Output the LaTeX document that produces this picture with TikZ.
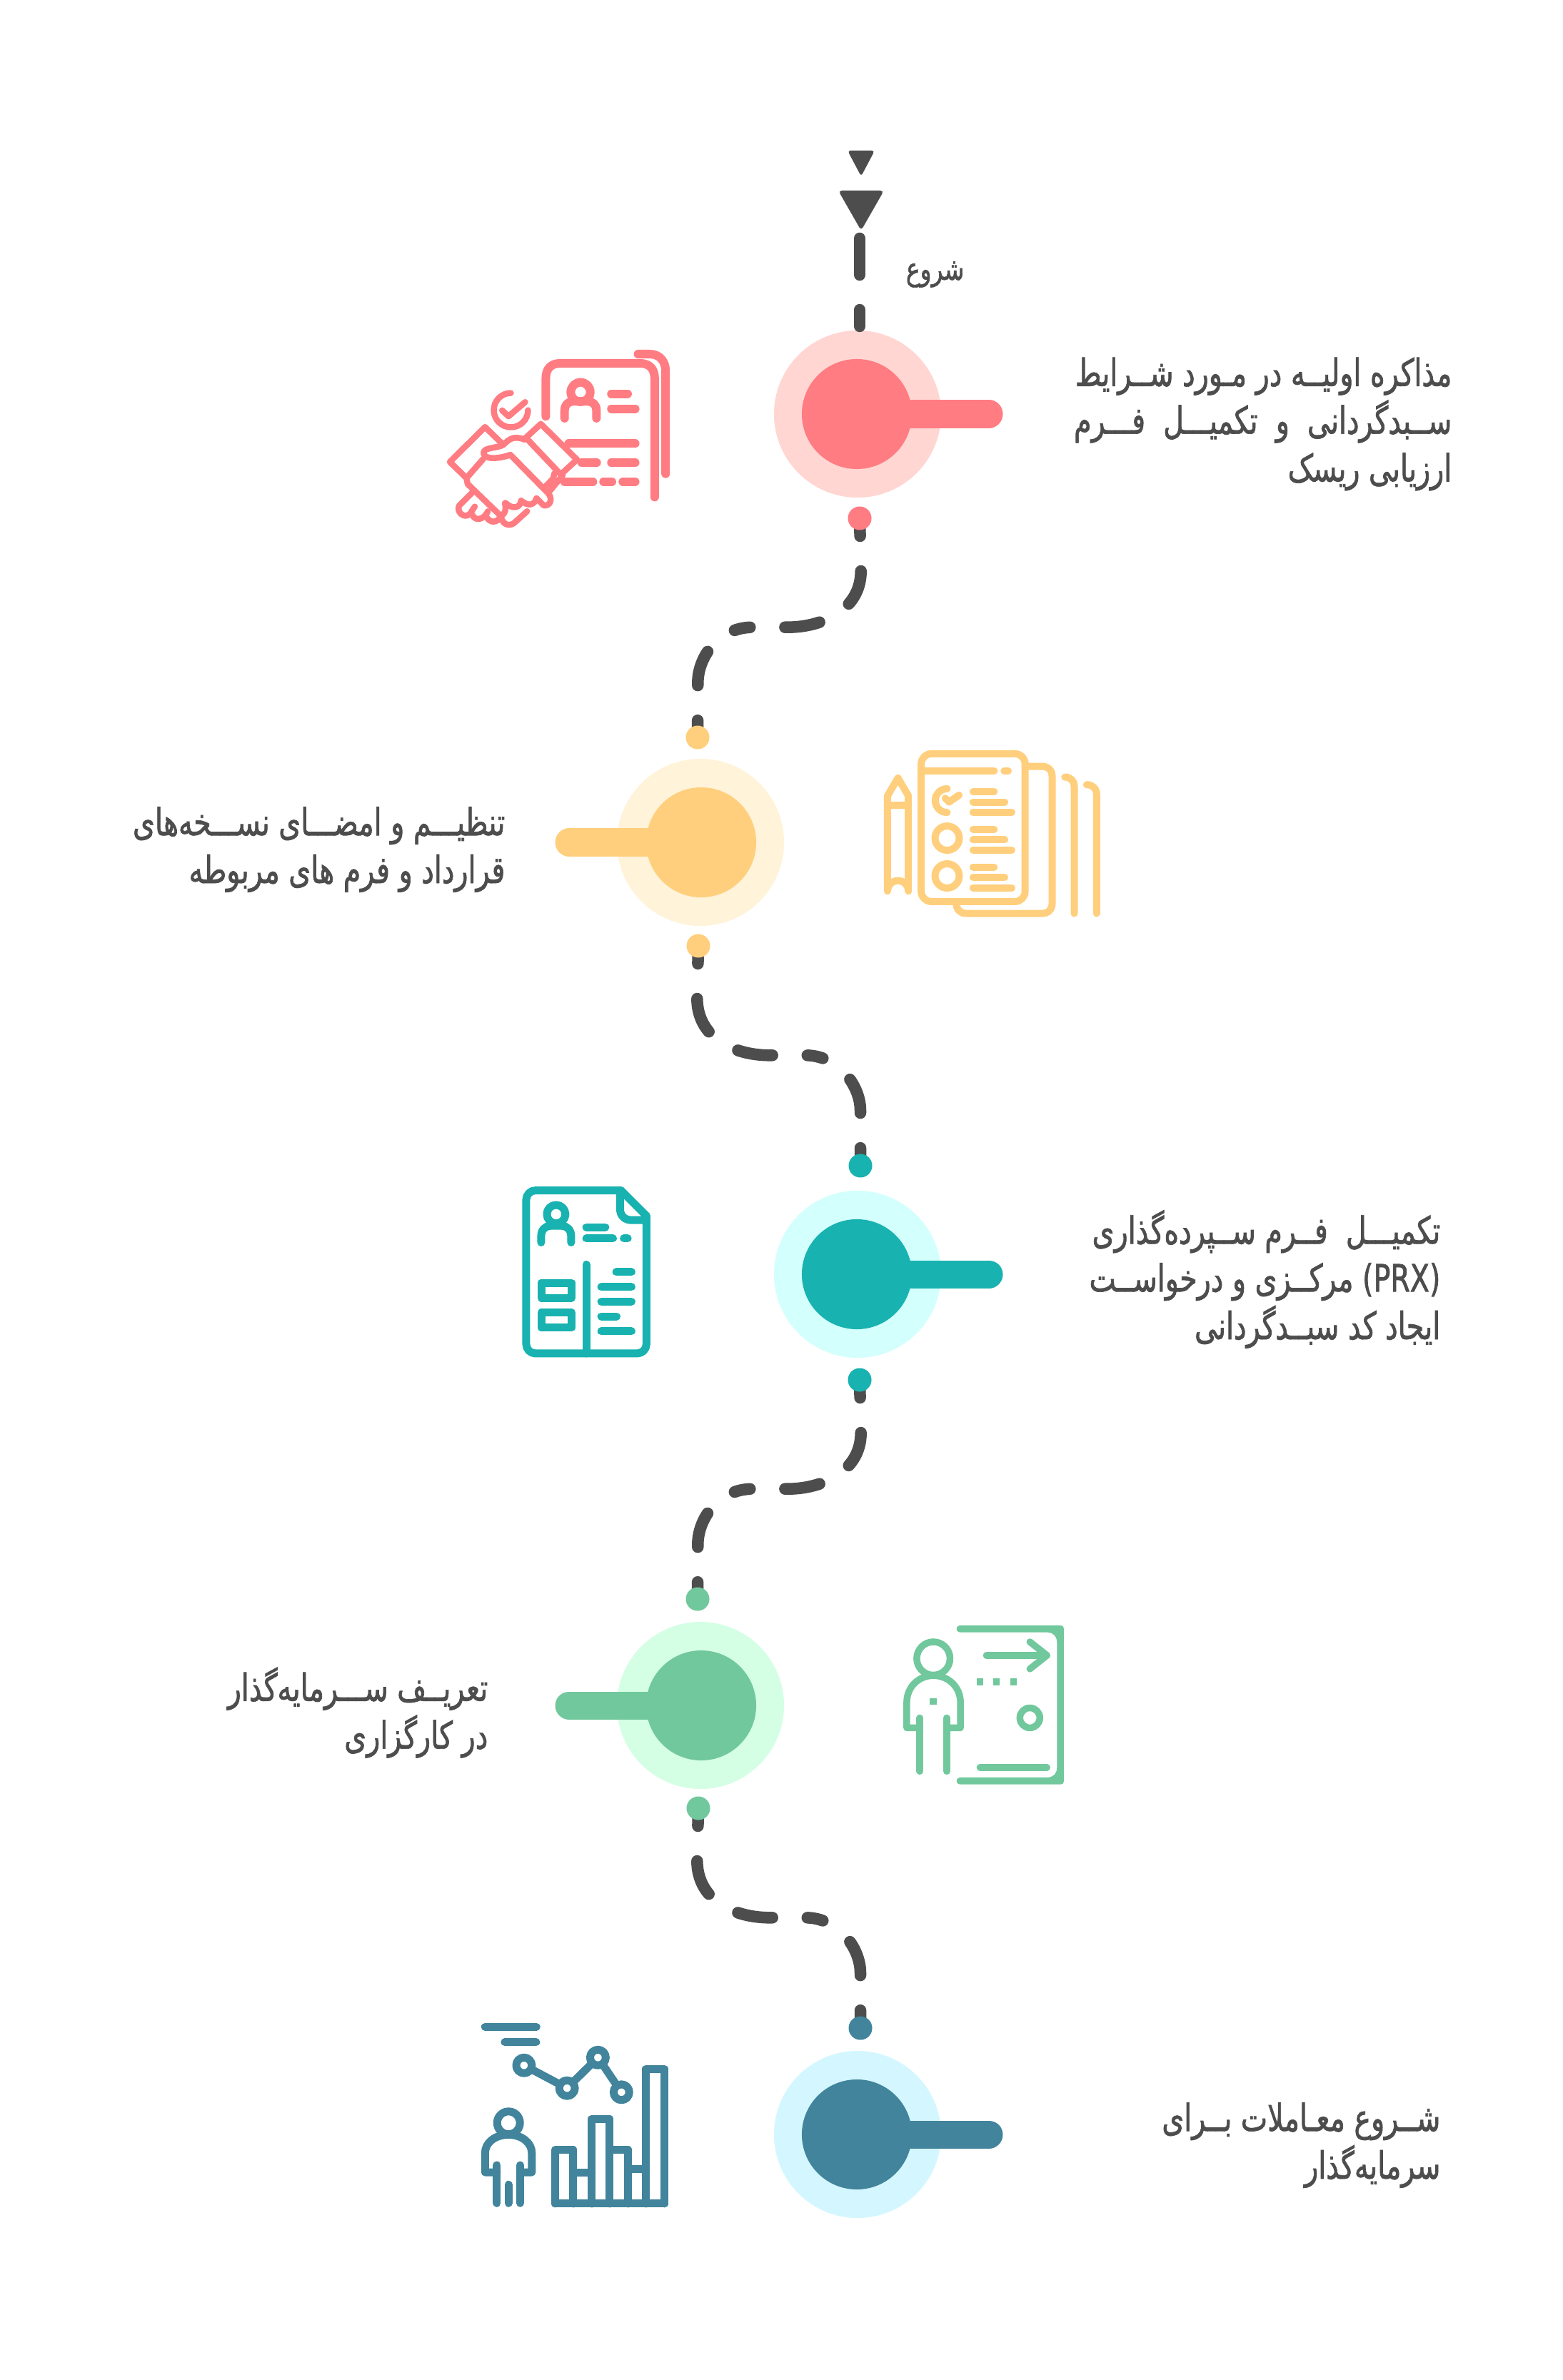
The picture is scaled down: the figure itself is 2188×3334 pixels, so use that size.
\documentclass[tikz,border=0pt]{standalone}
\usepackage{fontspec}
\usetikzlibrary{backgrounds}
\TeXXeTstate=1
\newfontfamily\farsi[Script=Arabic, FakeStretch=.75, FakeBold=1.3]{DejaVu Sans}

\definecolor{ink}{HTML}{4D4D4D}
\definecolor{pinkc}{HTML}{FF7C82}
\definecolor{pinkr}{HTML}{FFD6D2}
\definecolor{yellowc}{HTML}{FFCF7D}
\definecolor{yellowr}{HTML}{FFF3D9}
\definecolor{tealc}{HTML}{18B2B0}
\definecolor{tealr}{HTML}{D3FFFD}
\definecolor{greenc}{HTML}{72C89D}
\definecolor{greenr}{HTML}{D5FFE5}
\definecolor{bluec}{HTML}{41849C}
\definecolor{bluer}{HTML}{D4F7FF}

\tikzset{
    ring/.style={circle, fill=#1, inner sep=0pt, minimum size=2.34cm},
    disc/.style={circle, fill=#1, inner sep=0pt, minimum size=1.54cm},
    dot/.style={circle, fill=#1, inner sep=0pt, minimum size=.33cm},
    bar/.style={draw=#1, line width=.39cm, line cap=round},
    flow/.style={draw=ink, line width=.165cm, line cap=round},
    swing/.style={flow, dash pattern=on .25cm off .49cm on .5cm off .49cm on .49cm off .49cm on .22cm off .49cm on .5cm off .49cm on .6cm},
    caption/.style={text=ink, inner sep=0pt, align=right, font=\farsi\fontsize{15}{19}\selectfont},
    icon/.style={x=.003333cm, y=-.003333cm, line cap=round, line join=round},
}

\begin{document}
\begin{tikzpicture}[x=.01cm, y=-.01cm]
    \useasboundingbox (0,0) rectangle (2188,3334);

    % stops
    \node [ring=pinkr] (ring1) at (1201,580) {};
    \node [disc=pinkc] (disc1) at (1200,580) {};
    \node [dot=pinkc] (dot1b) at (1204,726) {};
    \node [dot=yellowc] (dot2t) at (977,1033) {};
    \node [ring=yellowr] (ring2) at (981,1180) {};
    \node [disc=yellowc] (disc2) at (982,1180) {};
    \node [dot=yellowc] (dot2b) at (978,1325) {};
    \node [dot=tealc] (dot3t) at (1205,1633) {};
    \node [ring=tealr] (ring3) at (1201,1785) {};
    \node [disc=tealc] (disc3) at (1200,1785) {};
    \node [dot=tealc] (dot3b) at (1204,1933) {};
    \node [dot=greenc] (dot4t) at (977,2240) {};
    \node [ring=greenr] (ring4) at (981,2389) {};
    \node [disc=greenc] (disc4) at (982,2389) {};
    \node [dot=greenc] (dot4b) at (978,2533) {};
    \node [dot=bluec] (dot5t) at (1205,2841) {};
    \node [ring=bluer] (ring5) at (1201,2990) {};
    \node [disc=bluec] (disc5) at (1200,2990) {};

    % bars
    \coordinate (bar1) at (1385,580);
    \coordinate (bar2) at (797,1180);
    \coordinate (bar3) at (1385,1785);
    \coordinate (bar4) at (797,2389);
    \coordinate (bar5) at (1385,2990);
    \draw [bar=pinkc] (disc1.center) -- (bar1);
    \draw [bar=yellowc] (disc2.center) -- (bar2);
    \draw [bar=tealc] (disc3.center) -- (bar3);
    \draw [bar=greenc] (disc4.center) -- (bar4);
    \draw [bar=bluec] (disc5.center) -- (bar5);

    % start
    \fill [ink, rounded corners=.04cm] (1187,211) -- (1225,211) -- (1206,247) -- cycle;
    \fill [ink, rounded corners=.05cm] (1174,267) -- (1238,267) -- (1206,323) -- cycle;
    \coordinate (start) at (1204,334);
    \coordinate (entry) at (1204,457);
    \draw [flow, dash pattern=on .51cm off .49cm on .23cm] (start) -- (entry);
    \node [text=ink, inner sep=0pt, font=\farsi\fontsize{12.5}{12.5}\selectfont, anchor=base east] (begin) at (1351,392) {\beginR شروع\endR};

    % path between the stops
    \begin{scope}[on background layer]
        \draw [swing] (dot1b.center) -- (1205.7,800) .. controls (1205.7,853.3) and (1153.3,878.7) .. (1103,878.7) -- (1054,878.7) .. controls (1006.7,878.7) and (977.3,920) .. (977.3,956.7) -- (dot2t.center);
        \draw [swing] (dot2b.center) -- (976.3,1398.3) .. controls (976.3,1453.3) and (1026.7,1478.3) .. (1078.3,1478.3) -- (1128.3,1478.3) .. controls (1173.3,1478.3) and (1205,1520) .. (1205,1555.7) -- (dot3t.center);
        \draw [swing] (dot3b.center) -- (1205.7,2007) .. controls (1205.7,2060.3) and (1153.3,2085.7) .. (1103,2085.7) -- (1054,2085.7) .. controls (1006.7,2085.7) and (977.3,2127) .. (977.3,2163.7) -- (dot4t.center);
        \draw [swing] (dot4b.center) -- (976.3,2606.3) .. controls (976.3,2661.3) and (1026.7,2686.3) .. (1078.3,2686.3) -- (1128.3,2686.3) .. controls (1173.3,2686.3) and (1205,2728) .. (1205,2763.7) -- (dot5t.center);
    \end{scope}

    % labels
    \node [caption, anchor=east] (label1) at (2034,594) {\beginR مذاکره اولیــه در مـورد شــرایط\endR\\\beginR ســبدگردانی \ و \ تکمیـــل \ فـــرم\endR\\\beginR ارزیابی ریسک\endR};
    \node [caption, anchor=east] (label2) at (708,1190) {\beginR تنظیـــم و امضـــای نســـخه‌های\endR\\\beginR قرارداد و فرم های مربوطه\endR};
    \node [caption, anchor=east] (label3) at (2018,1792) {\beginR تکمیـــل \ فــرم ســپرده‌گذاری\endR\\\beginR\beginL(PRX)\endL{} مرکــزی و درخواســت\endR\\\beginR ایجاد کد سبــدگردانی\endR};
    \node [caption, anchor=east] (label4) at (684,2399) {\beginR تعریــف ســـرمایه‌گذار\endR\\\beginR در کارگزاری\endR};
    \node [caption, anchor=east] (label5) at (2018,3005) {\beginR شــروع معـاملات بــرای\endR\\\beginR سرمایه‌گذار\endR};

    % first icon
    \begin{scope}[shift={(620,500)}, icon, draw=pinkc, line width=.12cm]
        \draw (822,-12) -- (870,-12) .. controls (915,-12) and (938,20) .. (938,60) -- (938,492);
        \draw (434,250) -- (434,90) .. controls (434,50) and (455,27) .. (495,27) -- (830,27) .. controls (870,27) and (892,50) .. (892,90) -- (892,590);
        \draw (580,148) circle [radius=41];
        \draw (513,258) -- (513,225) .. controls (513,200) and (530,187) .. (550,187) -- (610,187) .. controls (630,187) and (647,200) .. (647,225) -- (647,258);
        \draw (710,155) -- (778,155);
        \draw (710,218) -- (810,218);
        \draw (530,365) -- (810,365);
        \draw (585,445) -- (648,445);
        \draw (710,445) -- (810,445);
        \draw (513,525) -- (632,525);
        \draw (677,525) -- (712,525);
        \draw (758,525) -- (810,525);
        \fill [white] (178,285) -- (30,442) -- (100,520) -- (130,570) -- (250,700) -- (460,600) -- (440,560) -- (510,500) -- (575,432) -- (413,270) -- (340,340) -- (260,350) -- cycle;
        \begin{scope}[line width=.085cm]
            \draw (287,152) arc [start angle=270, end angle=0, radius=72];
            \draw (250,225) -- (277,250) -- (347,190);
            \draw (245,360) -- (178,295) -- (30,442) -- (100,510) -- (170,430);
            \draw (350,340) -- (413,282) -- (565,432) -- (497,495) -- cycle;
            \draw (345,348) .. controls (300,330) and (280,345) .. (255,370) .. controls (230,385) and (170,380) .. (172,405) .. controls (175,435) and (240,428) .. (285,412) -- (445,575) .. controls (465,600) and (450,630) .. (425,625) -- (395,595);
            \draw (470,490) -- (465,512) -- (430,548);
            \draw (505,498) -- (450,565);
            \draw (395,595) .. controls (385,625) and (360,630) .. (330,605);
            \draw (330,605) .. controls (325,640) and (290,640) .. (265,615);
            \draw (100,510) -- (105,535) -- (245,670) .. controls (270,655) and (265,630) .. (262,615);
            \draw (130,565) -- (70,625) .. controls (55,650) and (90,685) .. (115,660) -- (135,630);
            \draw (125,665) .. controls (135,690) and (170,690) .. (190,650);
            \draw (185,675) .. controls (200,700) and (230,700) .. (245,670);
            \draw (245,675) .. controls (255,710) and (285,715) .. (305,695) -- (355,650);
        \end{scope}
    \end{scope}

    % second icon
    \begin{scope}[shift={(1200,1020)}, icon, draw=yellowc, line width=.1cm]
        \draw (173,210) -- (129,285) -- (129,686) arc [start angle=180, end angle=360, radius=44] -- (217,285) -- cycle;
        \draw (129,325) -- (217,325);
        \draw [rounded corners=.14cm] (271,108) rectangle (708,730);
        \draw (271,180) -- (578,180);
        \draw (620,180) -- (637,180);
        \draw (380,255) arc [start angle=270, end angle=90, radius=50];
        \draw (372,295) -- (388,311) -- (430,282);
        \draw (380,463) circle [radius=51];
        \draw (380,622) circle [radius=51];
        \draw (489,268) -- (578,268);
        \draw (489,311) -- (622,311);
        \draw (489,354) -- (652,354);
        \draw (489,426) -- (578,426);
        \draw (489,470) -- (622,470);
        \draw (489,513) -- (652,513);
        \draw (489,585) -- (578,585);
        \draw (489,628) -- (622,628);
        \draw (489,673) -- (652,673);
        \draw (708,161) -- (780,161) .. controls (805,161) and (822,178) .. (822,203) -- (822,738) .. controls (822,763) and (805,780) .. (780,780) -- (460,780) .. controls (435,780) and (418,763) .. (418,735);
        \draw (875,206) .. controls (900,206) and (915,222) .. (915,246) -- (915,780);
        \draw (967,238) .. controls (992,238) and (1009,254) .. (1009,278) -- (1009,780);
    \end{scope}

    % third icon
    \begin{scope}[shift={(700,1640)}, icon, draw=tealc, line width=.11cm]
        \draw [rounded corners=.13cm] (510,83) -- (111,83) -- (111,769) -- (617,769) -- (617,190);
        \draw (617,190) -- (510,83);
        \draw (506,83) -- (506,160) .. controls (506,190) and (526,208) .. (556,208) -- (617,208);
        \draw (237,183) circle [radius=39];
        \draw (174,302) -- (174,275) .. controls (174,250) and (190,232) .. (214,232) -- (260,232) .. controls (284,232) and (300,250) .. (300,275) -- (300,302);
        \draw (364,238) -- (444,238);
        \draw (364,285) -- (476,285);
        \draw (522,285) -- (538,285);
        \draw (364,395) -- (364,769);
        \draw (175,472) rectangle (302,535);
        \draw (175,597) rectangle (302,660);
        \draw (490,426) -- (554,426);
        \draw (427,489) -- (554,489);
        \draw (427,551) -- (554,551);
        \draw (427,613) -- (491,613);
        \draw (427,676) -- (554,676);
    \end{scope}

    % fourth icon
    \begin{scope}[shift={(1220,2260)}, icon, draw=greenc, line width=.095cm]
        \draw (262,190) circle [radius=70];
        \draw (205,482) -- (150,482) -- (150,375) .. controls (150,310) and (200,262) .. (262,262) .. controls (325,262) and (376,310) .. (376,375) -- (376,482) -- (318,482);
        \draw (205,440) -- (205,665);
        \draw (318,440) -- (318,665);
        \fill [greenc] (247,357) rectangle (275,385);
        \fill [greenc] (445,274) rectangle (473,302);
        \fill [greenc] (514,274) rectangle (542,302);
        \fill [greenc] (585,274) rectangle (613,302);
        \draw (485,177) -- (740,177);
        \draw (668,120) -- (740,177) -- (668,234);
        \draw (668,440) circle [radius=42];
        \draw (458,649) -- (740,649);
        \fill [greenc] (373,51) -- (798,51) .. controls (806,51) and (811,56) .. (811,64) -- (811,707) .. controls (811,715) and (806,720) .. (798,720) -- (373,720) .. controls (355,720) and (355,691) .. (373,691) -- (740,691) .. controls (765,691) and (782,675) .. (782,650) -- (782,122) .. controls (782,97) and (765,80) .. (740,80) -- (373,80) .. controls (355,80) and (355,51) .. (373,51) -- cycle;
    \end{scope}

    % fifth icon
    \begin{scope}[shift={(660,2820)}, icon, draw=bluec, line width=.11cm]
        \draw (58,58) -- (274,58);
        \draw (141,122) -- (273,122);
        \draw (222,220) -- (403,316) -- (533,187) -- (632,333);
        \draw [fill=white] (222,220) circle [radius=33];
        \draw [fill=white] (403,316) circle [radius=33];
        \draw [fill=white] (533,187) circle [radius=33];
        \draw [fill=white] (632,333) circle [radius=33];
        \draw (157,462) circle [radius=48];
        \draw (108,670) -- (58,670) -- (58,590) .. controls (58,545) and (100,512) .. (157,512) .. controls (212,512) and (255,545) .. (255,590) -- (255,670) -- (206,670);
        \draw (108,640) -- (108,800);
        \draw (206,640) -- (206,800);
        \draw (157,722) -- (157,800);
        \draw (353,802) -- (813,802);
        \draw (353,802) -- (353,575) -- (429,575) -- (429,802);
        \draw (429,672) -- (507,672);
        \draw (507,802) -- (507,445) -- (582,445) -- (582,802);
        \draw (582,575) -- (660,575) -- (660,802);
        \draw (660,655) -- (735,655);
        \draw (735,802) -- (735,235) -- (813,235) -- (813,802);
    \end{scope}
\end{tikzpicture}
\end{document}
